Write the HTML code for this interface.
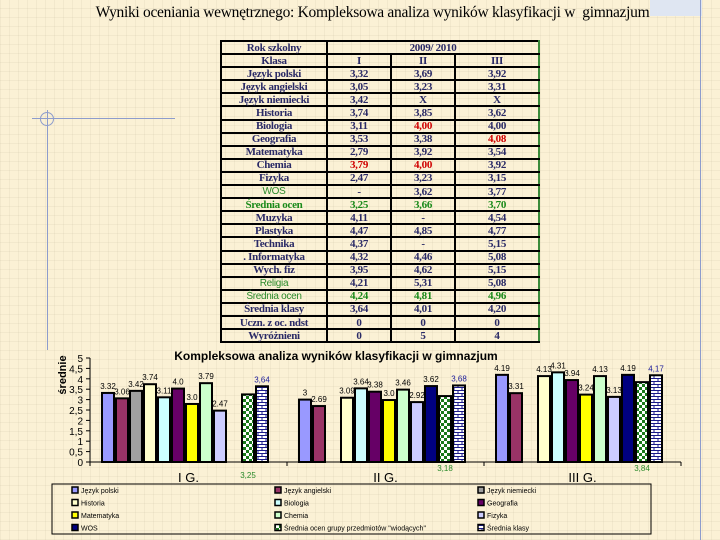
<!DOCTYPE html>
<html><head><meta charset="utf-8">
<style>
html,body{margin:0;padding:0}
body{width:720px;height:540px;position:relative;overflow:hidden;background-color:#fbf1d5;
background-image:repeating-linear-gradient(0deg,rgba(200,190,160,.18) 0 1px,transparent 1px 9px),repeating-linear-gradient(90deg,rgba(200,190,160,.18) 0 1px,transparent 1px 9px);font-family:"Liberation Sans",sans-serif}
#title{position:absolute;left:0;width:745px;top:4px;text-align:center;font:15.5px "Liberation Serif",serif;letter-spacing:-0.3px;color:#000}
table{position:absolute;left:220px;top:40px;width:320px;border-collapse:collapse;font:bold 11px "Liberation Serif",serif;color:#2a2a66;letter-spacing:-0.3px}
td{border:2px solid #000;height:11.1px;padding:0;line-height:10px;text-align:center}
table tr td:last-child{border-right:2px solid #3a8a3a}
.r{color:#d00000}.g{color:#1a8a1a}.gs{color:#2a8a2a;font:10px "Liberation Sans",sans-serif;font-weight:normal}
</style></head><body>
<div id="title">Wyniki oceniania wewnętrznego: Kompleksowa analiza wyników klasyfikacji w&nbsp; gimnazjum</div>
<div style="position:absolute;left:650px;top:0;width:52px;height:16px;background:#dfe6f2"></div>
<div style="position:absolute;left:700px;top:0;width:1px;height:540px;background:#8d9ccc"></div>
<div style="position:absolute;left:32px;top:118px;width:143px;height:1px;background:#8d9ccc"></div>
<div style="position:absolute;left:47px;top:110px;width:1px;height:240px;background:#8d9ccc"></div>
<div style="position:absolute;left:40px;top:112px;width:12px;height:12px;border:1px solid #8d9ccc;border-radius:50%"></div>
<table>
<tr><td style="width:104px">Rok szkolny</td><td colspan="3">2009/ 2010</td></tr>
<tr><td>Klasa</td><td style="width:62px">I</td><td style="width:62px">II</td><td>III</td></tr>
<tr><td>Język polski</td><td>3,32</td><td>3,69</td><td>3,92</td></tr>
<tr><td>Język angielski</td><td>3,05</td><td>3,23</td><td>3,31</td></tr>
<tr><td>Język niemiecki</td><td>3,42</td><td>X</td><td>X</td></tr>
<tr><td>Historia</td><td>3,74</td><td>3,85</td><td>3,62</td></tr>
<tr><td>Biologia</td><td>3,11</td><td class="r">4,00</td><td>4,00</td></tr>
<tr><td>Geografia</td><td>3,53</td><td>3,38</td><td class="r">4,08</td></tr>
<tr><td>Matematyka</td><td>2,79</td><td>3,92</td><td>3,54</td></tr>
<tr><td>Chemia</td><td class="r">3,79</td><td class="r">4,00</td><td>3,92</td></tr>
<tr><td>Fizyka</td><td>2,47</td><td>3,23</td><td>3,15</td></tr>
<tr><td class="gs">WOS</td><td>-</td><td>3,62</td><td>3,77</td></tr>
<tr><td class="g">Średnia ocen</td><td class="g">3,25</td><td class="g">3,66</td><td class="g">3,70</td></tr>
<tr><td>Muzyka</td><td>4,11</td><td>-</td><td>4,54</td></tr>
<tr><td>Plastyka</td><td>4,47</td><td>4,85</td><td>4,77</td></tr>
<tr><td>Technika</td><td>4,37</td><td>-</td><td>5,15</td></tr>
<tr><td>. Informatyka</td><td>4,32</td><td>4,46</td><td>5,08</td></tr>
<tr><td>Wych. fiz</td><td>3,95</td><td>4,62</td><td>5,15</td></tr>
<tr><td class="gs">Religia</td><td>4,21</td><td>5,31</td><td>5,08</td></tr>
<tr><td class="gs">Średnia ocen</td><td class="g">4,24</td><td class="g">4,81</td><td class="g">4,96</td></tr>
<tr><td>Średnia klasy</td><td>3,64</td><td>4,01</td><td>4,20</td></tr>
<tr><td>Uczn. z oc. ndst</td><td>0</td><td>0</td><td>0</td></tr>
<tr><td>Wyróżnieni</td><td>0</td><td>5</td><td>4</td></tr>
</table>

<svg id="chart" width="720" height="540" style="position:absolute;left:0;top:0" xmlns="http://www.w3.org/2000/svg">
<defs>
<pattern id="checker" width="6" height="6" patternUnits="userSpaceOnUse"><rect width="6" height="6" fill="#fff"/><rect width="3" height="3" fill="#1a7a1a"/><rect x="3" y="3" width="3" height="3" fill="#1a7a1a"/></pattern>
<pattern id="brick" width="8" height="6" patternUnits="userSpaceOnUse"><rect width="8" height="6" fill="#fff"/><path d="M0 0.5H8M0 3.5H8M2 0V3M6 3V6" stroke="#1a1a8a" stroke-width="1"/></pattern>
</defs>
<text x="336" y="360" text-anchor="middle" font-family="Liberation Sans" font-weight="bold" font-size="12">Kompleksowa analiza wyników klasyfikacji w gimnazjum</text>
<text x="0" y="0" transform="translate(66,375) rotate(-90)" text-anchor="middle" font-family="Liberation Sans" font-weight="bold" font-size="11">średnie</text>
<g id="plot"></g>
<rect x="52" y="484" width="599" height="50" fill="none" stroke="#000" stroke-width="1"/>
<g id="legend"></g>
</svg>
<script>
const categories = ["I G.", "II G.", "III G."];
const seriesNames = ["Język polski","Język angielski","Język niemiecki","Historia","Biologia","Geografia","Matematyka","Chemia","Fizyka","WOS","Średnia ocen grupy przedmiotów \"wiodących\"","Średnia klasy"];
const valuesI = [3.32,3.06,3.42,3.74,3.11,3.53,2.79,3.79,2.47,null,3.25,3.64];
const valuesII = [3.0,2.69,null,3.09,3.54,3.38,2.98,3.48,2.88,3.65,3.17,3.68];
const valuesIII = [4.19,3.31,null,4.13,4.31,3.94,3.24,4.13,3.13,4.19,3.84,4.17];
const labelsI = ["3.32","3.06","3.42","3.74","3.11","4.0","3.0","3.79","2.47","","3,25","3,64"];
const labelsII = ["3","2.69","","3.09","3.64","3.38","3.0","3.46","2.92","3.62","3,18","3,68"];
const labelsIII = ["4.19","3.31","","4.13","4.31","3.94","3.24","4.13","3.13","4.19","3,84","4,17"];
const yTicks = ["0","0,5","1","1,5","2","2,5","3","3,5","4","4,5","5"];
const legendNames = ["Język polski","Język angielski","Język niemiecki","Historia","Biologia","Geografia","Matematyka","Chemia","Fizyka","WOS","Średnia ocen grupy przedmiotów \"wiodących\"","Średnia klasy"];

const fills = ["#9999ff","#993366","#a0a0a0","#ffffcc","#ccffff","#660066","#ffff00","#ccffcc","#ccccff","#000080","url(#checker)","url(#brick)"];
const NS="http://www.w3.org/2000/svg";
const x0=90, yBase=462, yUnit=20.8, groupW=197, barW=14, groupPad=11;
const yScale=v=>yBase-v*yUnit;
const xScale=(g,i)=>x0+g*groupW+groupPad+i*barW;
const plot=document.getElementById('plot');
function mk(tag,attrs,parent){const e=document.createElementNS(NS,tag);for(const k in attrs)e.setAttribute(k,attrs[k]);(parent||plot).appendChild(e);return e;}

let ax=mk('line',{x1:x0,y1:yBase-5*yUnit,x2:x0,y2:yBase,stroke:'#000'});


let bx=mk('line',{x1:x0,y1:yBase,x2:x0+3*groupW,y2:yBase,stroke:'#000'});


yTicks.forEach((t,i)=>{
  const y=yScale(i*0.5);
  mk('line',{x1:x0-4,y1:y,x2:x0,y2:y,stroke:'#000'});
  const tx=mk('text',{x:x0-7,y:y+4,'text-anchor':'end','font-size':'10','font-family':'Liberation Sans'});
  tx.textContent=t;
  
  
});
for(let g=0;g<=3;g++){mk('line',{x1:x0+g*groupW,y1:yBase,x2:x0+g*groupW,y2:yBase+4,stroke:'#000'});}
const allVals=[valuesI,valuesII,valuesIII];
const allLabels=[labelsI,labelsII,labelsIII];
categories.forEach((c,g)=>{
  const ct=mk('text',{x:x0+g*groupW+groupW/2,y:yBase+20,'text-anchor':'middle','font-size':'13','font-family':'Liberation Sans'});
  ct.textContent=c;
  
  
  allVals[g].forEach((v,i)=>{
    if(v==null)return;
    const x=xScale(g,i), y=yScale(v);
    const r=mk('rect',{x:x+1,y:y,width:barW-2,height:yBase-y,fill:fills[i],stroke:'#000','stroke-width':2});
    
    
    const lab=allLabels[g][i];
    if(!lab)return;
    let ly=y-4, col='#000';
    if(i===10){ly=yBase+9+(g===0?7:0);col='#2a8a2a';}
    if(i===11){col='#1a1a9a';}
    const t=mk('text',{x:x+barW/2,y:ly,'text-anchor':'middle','font-size':'8','font-family':'Liberation Sans',fill:col});
    t.textContent=lab;
    
    
  });
});
const lg=document.getElementById('legend');
legendNames.forEach((n,i)=>{
  const col=i%3,row=Math.floor(i/3);
  const x=72+col*203, y=490+row*12.5;
  const sw=mk('rect',{x:x,y:y-3,width:6,height:6,fill:fills[i],stroke:'#000','stroke-width':1.5},lg);
  
  
  const t=mk('text',{x:x+9,y:y+3,'font-size':'7','font-family':'Liberation Sans'},lg);
  t.textContent=n;
  
  
});
</script>
</body></html>
